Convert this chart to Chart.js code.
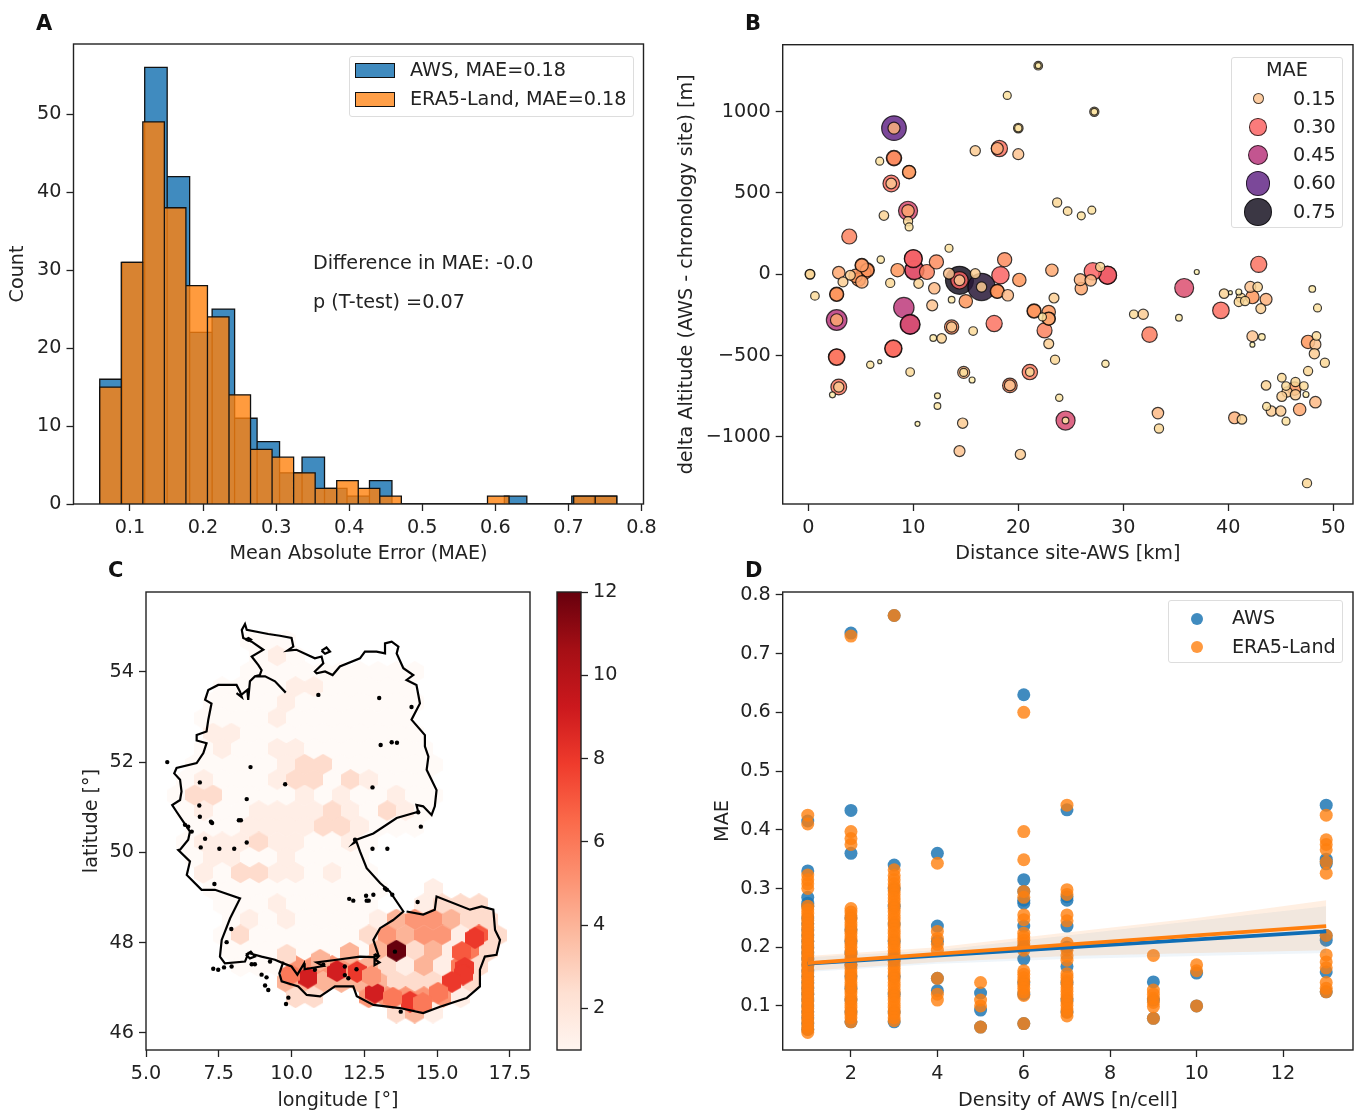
<!DOCTYPE html>
<html>
<head>
<meta charset="utf-8">
<title>MAE panels</title>
<script src="https://cdn.jsdelivr.net/npm/chart.js@4"></script>
<style>
    html, body { margin: 0; padding: 0; background: #fff; overflow: hidden; }
    body { width: 1358px; height: 1110px; position: relative; font-family: "DejaVu Sans", sans-serif; color: #222; filter: blur(.45px); }
    canvas { position: absolute; }
    .txt { position: absolute; white-space: nowrap; font-size: 19.2px; line-height: 22px; }
    .letter { position: absolute; font-weight: bold; font-size: 21px; line-height: 24px; color: #111; }
    .legend { position: absolute; background: rgba(255,255,255,.8); border: 1px solid #ddd; border-radius: 3px; box-sizing: border-box; }
    .swatch { position: absolute; box-sizing: border-box; border: 1.5px solid #111; }
    .dot { position: absolute; border-radius: 50%; box-sizing: border-box; }
</style>
</head>
<body>
<canvas id="histChart" width="654" height="536" style="left:6px;top:30px"></canvas>
<canvas id="siteChart" width="683" height="536" style="left:675px;top:30px"></canvas>
<canvas id="mapChart" width="470" height="538" style="left:80px;top:575px"></canvas>
<canvas id="barChart" width="100" height="490" style="left:540px;top:575px"></canvas>
<canvas id="densChart" width="647" height="538" style="left:711px;top:575px"></canvas>

<div class="letter" style="left:36px;top:11px">A</div>
<div class="letter" style="left:745px;top:11px">B</div>
<div class="letter" style="left:108px;top:558px">C</div>
<div class="letter" style="left:745px;top:558px">D</div>

<div class="txt" style="left:313px;top:252px">Difference in MAE: -0.0</div>
<div class="txt" style="left:313px;top:291px">p (T-test) =0.07</div>

<div class="legend" style="left:349px;top:56px;width:285px;height:61px"></div>
<div class="swatch" style="left:355px;top:63px;width:40px;height:15px;background:rgba(31,119,180,.85)"></div>
<div class="swatch" style="left:355px;top:92px;width:40px;height:15px;background:rgba(255,142,40,.85)"></div>
<div class="txt" style="left:410px;top:59px">AWS, MAE=0.18</div>
<div class="txt" style="left:410px;top:88px">ERA5-Land, MAE=0.18</div>

<div class="legend" style="left:1231px;top:57px;width:112px;height:171px"></div>
<div class="txt" style="left:1266px;top:59px">MAE</div>
<div id="maeLegend"></div>

<div class="legend" style="left:1168px;top:600px;width:175px;height:63px"></div>
<div class="dot" style="left:1191px;top:613px;width:12px;height:12px;background:rgba(31,119,180,.85)"></div>
<div class="dot" style="left:1191px;top:641px;width:12px;height:12px;background:rgba(255,127,14,.8)"></div>
<div class="txt" style="left:1232px;top:607px">AWS</div>
<div class="txt" style="left:1232px;top:636px">ERA5-Land</div>

<script>
    // ---- panel A: histogram
    const histTicksX = [0.1, 0.2, 0.3, 0.4, 0.5, 0.6, 0.7, 0.8];
    const histTicksY = [0, 10, 20, 30, 40, 50];
    const histStart = 0.0586;
    const awsBinWidth = 0.03076;
    const eraBinWidth = 0.02948;
    const awsCounts = [16, 31, 56, 42, 22, 25, 11, 8, 4, 6, 2, 1, 3, 0, 0, 0, 0, 0, 1, 0, 0, 1, 1];
    const eraCounts = [15, 31, 49, 38, 28, 24, 14, 7, 6, 4, 2, 3, 2, 1, 0, 0, 0, 0, 1, 0, 0, 0, 1, 1];

    // ---- panel B: sites
    const siteTicksX = [0, 10, 20, 30, 40, 50];
    const siteTicksY = [-1000, -500, 0, 500, 1000];
    const maeLegendValues = [0.15, 0.30, 0.45, 0.60, 0.75];
    const siteDist = [21.9, 21.9, 18.95, 20, 20, 15.9, 18.2, 18.0, 20, 8.16,
        8.16, 8.16, 8.16, 6.8, 9.6, 9.6, 7.9, 7.9, 23.7, 24.7,
        7.2, 9.5, 9.5, 9.5, 9.6, 3.9, 13.4, 6.9, 10, 10,
        18.7, 12.2, 5.1, 5.1, 5.6, 5.6, 10.1, 10.1, 11.3, 8.5,
        2.9, 0.16, 0.16, 4, 13.4, 14.4, 14.4, 14.4, 15.9, 18.3,
        20.1, 23.2, 3.3, 4.8, 5.1, 7.8, 10.5, 12, 16.5, 16.5,
        18, 18, 19, 0.63, 2.7, 2.7, 13.65, 15, 11.8, 23.4,
        9.1, 9.7, 9.7, 2.7, 2.7, 21.5, 21.5, 22.9, 22.9, 22.9,
        22.3, 22.5, 17.7, 13.65, 13.65, 15.7, 11.9, 12.7, 22.9, 8.1,
        8.1, 2.7, 2.7, 23.5, 5.9, 6.8, 9.7, 14.8, 14.8, 15.6,
        21.1, 21.1, 19.2, 19.2, 2.9, 2.9, 2.3, 23.9, 12.3, 12.3,
        24.5, 24.5, 10.4, 14.7, 14.4, 20.2, 27.24, 27.24, 26, 27,
        27.8, 27.1, 28.5, 28.5, 25.9, 26, 26.9, 37, 42.9, 35.8,
        31, 31.9, 35.3, 32.5, 28.3, 39.3, 39.6, 40.2, 41, 41.2,
        41, 41.6, 42.1, 42.3, 42.8, 43.6, 43.1, 48, 48.5, 42.3,
        43.2, 42.3, 47.6, 48.4, 48.3, 48.2, 49.2, 47.6, 45.1, 43.6,
        45.5, 46.4, 46.3, 47.2, 45.1, 45.6, 46.4, 47.4, 48.3, 43.65,
        44.1, 45, 46.8, 45.5, 40.6, 41.3, 33.3, 33.4, 47.5, 4.5, 5.3];
    const siteAlt = [1282, 1282, 1099, 898, 898, 759, 773, 773, 738, 898,
        898, 714, 714, 695, 628, 628, 558, 558, 441, 388,
        361, 390, 390, 326, 291, 232, 160, 90, 96, 96,
        90, 76, 55, 55, 25, 25, 25, 25, 14, 25,
        10, 0, 0, -6, 4, -37, -37, -37, 4, -6,
        -35, 25, -47, -33, -47, -53, -57, -86, -78, -78,
        -105, -105, -129, -133, -123, -123, -156, -166, -191, -146,
        -205, -308, -308, -281, -281, -226, -226, -232, -273, -273,
        -262, -345, -303, -324, -324, -349, -392, -394, -427, -457,
        -457, -509, -509, -525, -556, -537, -601, -603, -603, -650,
        -601, -601, -683, -683, -693, -693, -741, -759, -747, -810,
        -899, -899, -919, -915, -1087, -1107, 999, 999, 359, 394,
        45, 18, -6, -6, -33, -88, -37, 14, 61, -84,
        -246, -246, -267, -371, -550, -222, -119, -113, -109, -144,
        -170, -164, -78, -140, -78, -154, -211, -90, -207, -381,
        -385, -433, -416, -379, -431, -488, -544, -595, -636, -683,
        -687, -662, -703, -687, -751, -724, -741, -739, -786, -812,
        -841, -841, -831, -903, -882, -892, -853, -948, -1284, -10, 10];
    const siteMae = [0.09, 0.05, 0.08, 0.11, 0.07, 0.13, 0.27, 0.17, 0.15, 0.6,
        0.17, 0.25, 0.22, 0.08, 0.2, 0.19, 0.28, 0.14, 0.1, 0.09,
        0.11, 0.38, 0.18, 0.1, 0.08, 0.24, 0.08, 0.07, 0.33, 0.31,
        0.22, 0.22, 0.21, 0.19, 0.23, 0.2, 0.4, 0.35, 0.24, 0.2,
        0.18, 0.12, 0.1, 0.12, 0.15, 0.75, 0.3, 0.14, 0.12, 0.3,
        0.2, 0.18, 0.12, 0.2, 0.18, 0.1, 0.11, 0.16, 0.72, 0.13,
        0.22, 0.2, 0.16, 0.09, 0.22, 0.2, 0.06, 0.2, 0.15, 0.12,
        0.44, 0.42, 0.38, 0.45, 0.18, 0.22, 0.2, 0.2, 0.2, 0.18,
        0.08, 0.24, 0.27, 0.22, 0.13, 0.09, 0.06, 0.11, 0.12, 0.3,
        0.28, 0.28, 0.26, 0.1, 0.07, 0.03, 0.09, 0.17, 0.08, 0.05,
        0.25, 0.09, 0.23, 0.15, 0.26, 0.13, 0.05, 0.07, 0.05, 0.06,
        0.38, 0.06, 0.04, 0.13, 0.15, 0.13, 0.1, 0.06, 0.08, 0.08,
        0.1, 0.3, 0.34, 0.32, 0.17, 0.18, 0.16, 0.04, 0.27, 0.37,
        0.09, 0.13, 0.06, 0.25, 0.07, 0.28, 0.11, 0.03, 0.05, 0.1,
        0.1, 0.1, 0.15, 0.2, 0.11, 0.17, 0.12, 0.06, 0.08, 0.15,
        0.06, 0.04, 0.2, 0.09, 0.15, 0.13, 0.1, 0.1, 0.09, 0.11,
        0.09, 0.1, 0.2, 0.09, 0.12, 0.13, 0.13, 0.05, 0.16, 0.08,
        0.13, 0.13, 0.18, 0.08, 0.17, 0.11, 0.16, 0.1, 0.1, 0.2, 0.22];

    // ---- panel C: map
    const mapTicksX = [5, 7.5, 10, 12.5, 15, 17.5];
    const mapTicksY = [46, 48, 50, 52, 54];
    const colorTicks = [2, 4, 6, 8, 10, 12];
    const hexStep = 0.63;
    const hexRowLat = [54.69, 54.35, 54.00, 53.66, 53.32, 52.97, 52.63, 52.29, 51.94, 51.60, 51.26, 50.91,
        50.57, 50.22, 49.88, 49.54, 49.19, 48.85, 48.51, 48.16, 47.82, 47.48, 47.13, 46.79, 46.45];
    const hexRowLon = [8.56, 8.875, 8.56, 7.615, 7.3, 6.985, 7.3, 6.985, 6.67, 6.355, 6.04, 6.355,
        6.67, 6.355, 6.67, 6.985, 7.3, 7.615, 7.93, 7.615, 7.93, 8.245, 9.82, 10.135, 13.6];
    const hexRowCounts = [
        [1, 1, 1],
        [1, 2, 1],
        [1, 1, 1, 1, 1, 1, 1, 1, 1, 1],
        [1, 1, 1, 1, 2, 2, 1, 1, 1, 1, 1],
        [1, 1, 1, 1, 2, 1, 1, 1, 1, 1, 1, 1],
        [1, 1, 1, 1, 2, 1, 1, 1, 1, 1, 1, 1],
        [2, 2, 1, 1, 1, 1, 1, 1, 1, 1, 1, 1],
        [1, 2, 1, 1, 2, 2, 1, 1, 1, 1, 1, 1, 1],
        [1, 1, 1, 1, 1, 2, 3, 3, 1, 1, 1, 1, 1, 1],
        [1, 2, 1, 1, 1, 2, 3, 3, 1, 3, 2, 1, 1, 1],
        [1, 3, 3, 1, 1, 1, 1, 2, 1, 2, 1, 1, 2, 1, 1],
        [1, 2, 1, 1, 2, 2, 2, 2, 3, 2, 1, 3, 2, 1],
        [1, 1, 1, 2, 2, 2, 2, 3, 3, 2, 1, 1, 1],
        [1, 2, 2, 2, 3, 2, 2, 1, 1, 2, 1],
        [1, 2, 2, 1, 1, 2, 1, 1, 1, 1],
        [2, 1, 3, 3, 2, 2, 1, 2, 1, 1],
        [1, 1, 1, 1, 1, 1, 1, 1, 1, 1, 0, 0, 2],
        [1, 1, 1, 2, 1, 1, 1, 1, 1, 0, 0, 2, 3, 3, 3],
        [1, 2, 1, 2, 1, 1, 1, 1, 2, 4, 5, 5, 4, 3, 3],
        [1, 3, 1, 1, 1, 1, 1, 1, 3, 5, 4, 5, 5, 2, 7, 3],
        [1, 1, 1, 1, 1, 1, 1, 1, 4, 4, 3, 4, 2, 6, 3],
        [1, 1, 1, 5, 5, 5, 5, 4, 3, 2, 4, 2, 6, 3],
        [4, 4, 4, 4, 4, 4, 3, 3, 3, 4, 3],
        [3, 3, 0, 0, 5, 5, 5, 5, 5, 2],
        [3, 4, 2]
    ];
    const peakLon = [13.6, 16.3, 15.85, 15.95, 15.89, 15.51, 15.03, 12.86, 14.07, 13.48, 14.51, 10.56, 9.95, 11.56, 12.25, 12.76, 10.98, 12.0, 9.84];
    const peakLat = [47.82, 48.1, 47.79, 47.44, 47.29, 47.13, 46.89, 46.89, 46.69, 46.78, 46.66, 47.22, 47.29, 47.37, 47.35, 47.26, 47.62, 47.77, 47.73];
    const peakCount = [12, 8, 7, 8, 8, 8, 6, 9, 8, 6, 6, 9, 6, 9, 8, 5, 4, 4, 3];
    const borderLon = [9.80, 9.43, 9.09, 8.74, 8.57, 8.51, 8.48, 8.23, 8.11, 8.29, 8.23, 8.11, 7.48, 7.14, 7.03, 7.25, 7.14, 7.08, 6.74, 6.74, 7.08, 6.97, 6.74, 6.05, 5.97, 6.17, 6.22, 6.17, 5.9, 6.05, 6.28, 6.4, 6.51, 6.45, 6.17,
        6.11, 6.51, 6.4, 6.91, 7.37, 8.23, 7.89, 7.6, 7.54, 7.71, 8.4, 8.52, 8.74, 8.97, 9.43, 9.72, 10.0, 10.2, 10.43, 10.45, 11.09, 10.86, 11.55, 12.35, 12.81, 12.98, 12.81, 13.04, 13.49, 13.84, 13.38, 13.04, 12.58, 12.35, 12.23,
        12.12, 12.23, 12.81, 13.61, 14.35, 14.29, 14.52, 14.81, 14.92, 14.98, 14.64, 14.7, 14.58, 14.58, 14.12, 14.41, 14.29, 13.95, 14.18, 13.84, 13.61, 13.67, 13.44, 13.21, 13.21, 12.92, 12.52, 12.35, 11.66, 11.41, 11.15, 10.86, 10.80, 11.09, 11.03, 10.80, 10.17, 9.85, 10.06, 10.0, 9.6, 9.2, 8.46, 8.4, 8.29, 8.34, 8.63, 9.03, 8.63, 8.86, 8.97, 8.91, 8.74,
        null, 8.42, 8.52, 8.6, 8.52, 8.42,
        null, 11.03, 11.2, 11.32, 11.15, 11.03,
        null, 9.72, 9.58, 9.66, 10.23, 10.52, 10.98, 11.49, 12.12, 12.24, 12.81, 13.72, 14.52, 15.1, 16.01, 16.47, 16.47, 16.64, 17.04, 17.16, 16.99, 16.93, 16.53, 16.13, 14.98, 14.92, 14.52, 13.95,
        null, 8.43, 8.6, 8.74, 8.57, 8.43,
        null, 12.85, 13.0, 12.88, 13.02, 12.85, 12.85];
    const borderLat = [53.54, 53.79, 53.90, 53.90, 53.79, 53.38, 53.6, 53.47, 53.53, 53.44, 53.56, 53.71, 53.71, 53.6, 53.38, 53.3, 52.94, 52.68, 52.6, 52.48, 52.42, 52.2, 51.98, 51.87, 51.75, 51.61, 51.35, 51.16, 51.05, 50.9, 50.68, 50.57, 50.46, 50.28, 50.06,
        50.05, 49.8, 49.5, 49.17, 49.17, 48.98, 48.54, 48.06, 47.69, 47.54, 47.58, 47.77, 47.73, 47.69, 47.62, 47.54, 47.47, 47.29, 47.54, 47.41, 47.48, 47.56, 47.62, 47.69, 47.68, 47.73, 48.06, 48.32, 48.5, 48.69, 49.13, 49.32, 49.65, 50.02, 50.24,
        50.2, 50.28, 50.42, 50.76, 50.9, 51.05, 51.02, 50.83, 51.02, 51.38, 51.83, 52.12, 52.35, 52.6, 52.94, 53.3, 53.71, 53.82, 53.93, 54.08, 54.41, 54.56, 54.67, 54.63, 54.41, 54.45, 54.45, 54.3, 54.12, 53.93, 54.01, 53.97, 54.01, 54.19, 54.34, 54.3, 54.49, 54.47, 54.56, 54.75, 54.8, 54.84, 54.93, 55.06, 54.93, 54.75, 54.67, 54.49, 54.34, 54.15, 54.04, 53.93, 53.9,
        null, 54.72, 54.75, 54.72, 54.69, 54.72,
        null, 54.47, 54.54, 54.45, 54.4, 54.47,
        null, 47.58, 47.32, 47.14, 47.03, 46.84, 46.81, 47.03, 47.03, 46.81, 46.62, 46.55, 46.44, 46.58, 46.77, 47.03, 47.4, 47.69, 47.73, 48.06, 48.28, 48.73, 48.8, 48.73, 49.02, 48.73, 48.62, 48.69,
        null, 47.73, 47.8, 47.69, 47.65, 47.73,
        null, 47.75, 47.7, 47.62, 47.56, 47.5, 47.75];
    const stationLon = [10.92, 13.01, 14.12, 13.06, 13.44, 13.62, 5.73, 8.59, 6.85, 9.78, 12.78, 8.46, 6.83, 6.85, 7.23, 7.27, 8.19, 8.26, 6.34, 6.45, 6.57, 7.03, 8.46, 14.35, 14.44, 12.18, 6.88, 7.52, 8.03, 12.78, 13.29,
        7.35, 11.98, 12.12, 12.56, 12.81, 12.58, 12.65, 13.27, 13.21, 13.46, 14.33, 7.93, 7.77, 7.31, 7.48, 7.68, 7.94, 8.63, 8.74, 9.26, 8.97, 9.14, 9.09, 9.2, 9.89, 9.81, 10.8, 11.09, 11.83, 12.23, 11.83, 11.95, 13.55, 13.75];
    const stationLat = [53.49, 53.42, 53.22, 52.38, 52.44, 52.43, 52.0, 51.89, 51.55, 51.51, 51.44, 51.18, 51.04, 50.79, 50.68, 50.65, 50.71, 50.71, 50.61, 50.57, 50.46, 50.3, 50.22, 50.89, 50.57, 50.28, 50.11, 50.08, 50.08, 50.08, 50.08,
        49.3, 48.97, 48.93, 49.04, 49.06, 48.93, 48.93, 49.17, 49.2, 49.06, 48.9, 48.3, 48.01, 47.42, 47.4, 47.45, 47.47, 47.52, 47.52, 47.58, 47.29, 47.23, 47.05, 46.95, 46.78, 46.64, 47.4, 47.51, 47.47, 47.41, 47.28, 47.21, 47.8, 46.47];

    // ---- panel D: density
    const densTicksX = [2, 4, 6, 8, 10, 12];
    const densTicksY = [0.1, 0.2, 0.3, 0.4, 0.5, 0.6, 0.7, 0.8];
    const densityLevels = [1, 2, 3, 4, 5, 6, 7, 9, 10, 13];
    const awsByDensity = [
        [0.415, 0.33, 0.285, 0.275, 0.27, 0.25, 0.24, 0.23, 0.22, 0.21, 0.2, 0.19, 0.18, 0.17, 0.16, 0.15, 0.14, 0.13, 0.12, 0.11, 0.1, 0.09, 0.08, 0.07, 0.06],
        [0.735, 0.433, 0.36, 0.25, 0.23, 0.21, 0.19, 0.17, 0.15, 0.13, 0.11, 0.09, 0.073],
        [0.765, 0.34, 0.3, 0.27, 0.24, 0.21, 0.18, 0.15, 0.12, 0.09, 0.073],
        [0.36, 0.236, 0.21, 0.147, 0.126],
        [0.122, 0.093, 0.064],
        [0.63, 0.315, 0.295, 0.28, 0.275, 0.236, 0.2, 0.18, 0.14, 0.12, 0.07],
        [0.434, 0.286, 0.28, 0.236, 0.2, 0.167, 0.14, 0.11, 0.09],
        [0.141, 0.11, 0.079],
        [0.156, 0.1],
        [0.442, 0.35, 0.346, 0.342, 0.22, 0.212, 0.158, 0.124]
    ];
    const eraByDensity = [
        [0.425, 0.41, 0.323, 0.315, 0.308, 0.3, 0.27, 0.264, 0.258, 0.252, 0.246, 0.24, 0.234, 0.228, 0.222, 0.216, 0.21, 0.204, 0.198, 0.192, 0.186, 0.18, 0.174, 0.168, 0.162, 0.156, 0.15, 0.144, 0.138, 0.132, 0.126, 0.12, 0.114, 0.108, 0.102, 0.096, 0.09, 0.084, 0.078, 0.072, 0.066, 0.06, 0.055],
        [0.73, 0.397, 0.385, 0.375, 0.266, 0.26, 0.254, 0.248, 0.242, 0.236, 0.23, 0.224, 0.218, 0.212, 0.206, 0.2, 0.194, 0.188, 0.182, 0.176, 0.17, 0.164, 0.158, 0.152, 0.146, 0.14, 0.134, 0.128, 0.122, 0.116, 0.11, 0.104, 0.098, 0.092, 0.086, 0.08, 0.073],
        [0.765, 0.332, 0.322, 0.315, 0.308, 0.302, 0.296, 0.29, 0.284, 0.278, 0.272, 0.266, 0.26, 0.254, 0.248, 0.242, 0.236, 0.23, 0.224, 0.218, 0.212, 0.206, 0.2, 0.194, 0.188, 0.182, 0.176, 0.17, 0.164, 0.158, 0.152, 0.146, 0.14, 0.134, 0.128, 0.122, 0.116, 0.11, 0.104, 0.098, 0.092, 0.087, 0.08, 0.075],
        [0.343, 0.227, 0.215, 0.205, 0.195, 0.147, 0.12, 0.11],
        [0.14, 0.11, 0.1, 0.064],
        [0.6, 0.397, 0.349, 0.295, 0.285, 0.255, 0.247, 0.224, 0.218, 0.212, 0.206, 0.2, 0.195, 0.16, 0.154, 0.148, 0.142, 0.136, 0.13, 0.124, 0.118, 0.07],
        [0.442, 0.298, 0.29, 0.255, 0.245, 0.207, 0.195, 0.185, 0.178, 0.155, 0.149, 0.143, 0.137, 0.131, 0.125, 0.119, 0.113, 0.107, 0.101, 0.095, 0.089, 0.083],
        [0.186, 0.127, 0.12, 0.113, 0.106, 0.099, 0.079],
        [0.17, 0.16, 0.1],
        [0.425, 0.383, 0.375, 0.366, 0.345, 0.326, 0.22, 0.187, 0.175, 0.165, 0.14, 0.13, 0.124]
    ];
    const fitX = [1, 13];
    const awsFit = [0.172, 0.227];
    const eraFit = [0.173, 0.236];
    const bandX = [1, 4, 7, 10, 13];
    const awsBandHigh = [0.183, 0.195, 0.22, 0.245, 0.27];
    const awsBandLow = [0.158, 0.172, 0.18, 0.185, 0.19];
    const eraBandHigh = [0.185, 0.2, 0.225, 0.25, 0.28];
    const eraBandLow = [0.16, 0.175, 0.185, 0.19, 0.195];

    const FONT = "'DejaVu Sans'";
    const FONT_SIZE = 19.2;
    const INK = "#222";

    // box round the plot, matplotlib style
    const frame = {
        id: "frame",
        afterDatasetsDraw(chart) {
            const a = chart.chartArea, c = chart.ctx;
            c.save();
            c.strokeStyle = INK;
            c.lineWidth = 1.4;
            c.strokeRect(a.left, a.top, a.right - a.left, a.bottom - a.top);
            c.restore();
        }
    };

    function axis(min, max, ticks, title, digits, size, position) {
        return {
            type: "linear",
            bounds: "data",
            position: position,
            min: min,
            max: max,
            afterBuildTicks: function (a) { a.ticks = ticks.map(v => ({ value: v })); },
            afterFit: function (a) {
                if (a.isHorizontal()) a.height = size; else a.width = size;
                // label overhang must not squeeze the plot, the canvases have room for it
                a.paddingLeft = a.paddingRight = a.paddingTop = a.paddingBottom = 0;
            },
            grid: { drawOnChartArea: false, drawTicks: true, tickLength: 7, tickColor: INK, tickWidth: 1.3 },
            border: { display: false },
            title: { display: !!title, text: title, color: INK, padding: 0, font: { family: FONT, size: FONT_SIZE } },
            ticks: {
                autoSkip: false, maxRotation: 0, minRotation: 0, padding: 5, color: INK,
                font: { family: FONT, size: FONT_SIZE },
                callback: function (v) {
                    const s = Math.abs(v).toFixed(digits);
                    return v < 0 ? "\u2212" + s : s;
                }
            }
        };
    }

    function baseOptions(x, y, padding) {
        return {
            responsive: false,
            animation: false,
            events: [],
            layout: { padding: padding, autoPadding: false },
            plugins: { legend: { display: false }, tooltip: { enabled: false } },
            scales: { x: x, y: y }
        };
    }

    function zipPoints(xs, ys) {
        return xs.map((x, i) => ({ x: x, y: ys[i] }));
    }

    function stepOutline(counts, width) {
        var pts = [];
        counts.forEach(function (n, i) {
            var a = histStart + i * width, b = a + width;
            pts.push({ x: a, y: 0 }, { x: a, y: n }, { x: b, y: n }, { x: b, y: 0 });
        });
        return pts;
    }

    function interp(stops, v) {
        if (v <= stops[0][0]) return stops[0].slice(1);
        for (var i = 1; i < stops.length; i++) {
            if (v <= stops[i][0]) {
                var t = (v - stops[i - 1][0]) / (stops[i][0] - stops[i - 1][0]);
                return stops[i].slice(1).map((s, k) => stops[i - 1][k + 1] + t * (s - stops[i - 1][k + 1]));
            }
        }
        return stops[stops.length - 1].slice(1);
    }

    // ---- A
    new Chart(document.getElementById("histChart"), {
        type: "scatter",
        data: {
            datasets: [{
                data: stepOutline(eraCounts, eraBinWidth), showLine: true, fill: "origin", tension: 0,
                pointRadius: 0, borderColor: "#111", borderWidth: 1.3, backgroundColor: "rgba(255,130,14,.8)", order: 1
            }, {
                data: stepOutline(awsCounts, awsBinWidth), showLine: true, fill: "origin", tension: 0,
                pointRadius: 0, borderColor: "#111", borderWidth: 1.3, backgroundColor: "rgba(31,119,180,.85)", order: 2
            }]
        },
        options: baseOptions(
            axis(0.0227, 0.8027, histTicksX, "Mean Absolute Error (MAE)", 1, 62),
            axis(0, 59, histTicksY, "Count", 0, 67.5),
            { top: 14, right: 16.5 }),
        plugins: [frame]
    });

    // ---- B
    const maeStops = [[0.03, 255, 245, 180], [0.1, 250, 215, 150], [0.15, 253, 195, 145], [0.2, 254, 150, 92],
        [0.3, 250, 100, 100], [0.45, 185, 55, 125], [0.6, 100, 40, 135], [0.75, 25, 20, 35]];
    const radiusStops = [[0.03, 2], [0.05, 3], [0.08, 4], [0.1, 4.6], [0.15, 5.5], [0.2, 6.7], [0.3, 8.7], [0.45, 10.3], [0.6, 12.3], [0.75, 14]];
    function maeColor(m) {
        return "rgba(" + interp(maeStops, m).map(Math.round).join(",") + ",.85)";
    }
    function maeRadius(m) {
        return interp(radiusStops, m)[0];
    }
    const sitePoints = siteDist.map((d, i) => ({ x: d, y: siteAlt[i], m: siteMae[i] }))
        .sort((a, b) => b.m - a.m);
    new Chart(document.getElementById("siteChart"), {
        type: "scatter",
        data: {
            datasets: [{
                data: sitePoints,
                pointRadius: sitePoints.map(p => maeRadius(p.m)),
                pointBackgroundColor: sitePoints.map(p => maeColor(p.m)),
                pointBorderColor: "rgba(0,0,0,.75)",
                pointBorderWidth: 1.2
            }]
        },
        options: baseOptions(
            axis(-2.44, 51.88, siteTicksX, "Distance site-AWS [km]", 0, 62),
            axis(-1412, 1411, siteTicksY, "delta Altitude (AWS - chronology site) [m]", 0, 107.7),
            { top: 14.7, right: 5 }),
        plugins: [frame]
    });
    // legend of panel B takes size and colour from the same functions
    var legendHtml = "";
    maeLegendValues.forEach(function (m, i) {
        var r = maeRadius(m), y = 98.7 + i * 28.2;
        legendHtml += '<div class="dot" style="left:' + (1258 - r) + 'px;top:' + (y - r) + 'px;width:' + (2 * r) + 'px;height:' + (2 * r) +
            'px;background:' + maeColor(m) + ';border:1px solid rgba(0,0,0,.7)"></div>' +
            '<div class="txt" style="left:1293px;top:' + (y - 11) + 'px">' + m.toFixed(2) + '</div>';
    });
    document.getElementById("maeLegend").innerHTML = legendHtml;

    // ---- C
    const redsStops = [[0, 255, 245, 240], [0.125, 254, 224, 210], [0.25, 252, 187, 161], [0.375, 252, 146, 114],
        [0.5, 251, 106, 74], [0.625, 239, 59, 44], [0.75, 203, 24, 29], [0.875, 165, 15, 21], [1, 103, 0, 13]];
    const lowShades = { 1: "#fffaf7", 2: "#ffeee6", 3: "#fedccd" };
    function redsColor(n) {
        if (lowShades[n]) return lowShades[n];
        return "rgb(" + interp(redsStops, (n - 1) / 11).map(Math.round).join(",") + ")";
    }
    const hexSprites = {};
    function hexSprite(n) {
        if (hexSprites[n]) return hexSprites[n];
        var cv = document.createElement("canvas"), w = 19, h = 22;
        cv.width = w; cv.height = h;
        var c = cv.getContext("2d");
        c.fillStyle = redsColor(n);
        c.beginPath();
        c.moveTo(w / 2, 0); c.lineTo(w, h * .25); c.lineTo(w, h * .75);
        c.lineTo(w / 2, h); c.lineTo(0, h * .75); c.lineTo(0, h * .25);
        c.closePath();
        c.fill();
        hexSprites[n] = cv;
        return cv;
    }
    const hexCells = [];
    hexRowCounts.forEach(function (row, r) {
        row.forEach(function (n, c) {
            if (n > 0) hexCells.push({ x: hexRowLon[r] + c * hexStep, y: hexRowLat[r], n: n });
        });
    });
    const peakCells = peakLon.map((lon, i) => ({ x: lon, y: peakLat[i], n: peakCount[i] }));
    function hexStyle(ctx) {
        return ctx.raw ? hexSprite(ctx.raw.n) : "circle";
    }
    new Chart(document.getElementById("mapChart"), {
        type: "scatter",
        data: {
            datasets: [{
                data: zipPoints(borderLon, borderLat), showLine: true, spanGaps: false, tension: 0, pointRadius: 0,
                borderColor: "#000", borderWidth: 2.2, order: 0
            }, {
                data: zipPoints(stationLon, stationLat), pointRadius: 2.2, pointBackgroundColor: "#000",
                pointBorderWidth: 0, order: 1
            }, {
                data: peakCells, pointStyle: hexStyle, pointRadius: 9, order: 2
            }, {
                data: hexCells, pointStyle: hexStyle, pointRadius: 9, order: 3
            }]
        },
        options: baseOptions(
            axis(5, 18.19, mapTicksX, "longitude [\u00b0]", 1, 63),
            axis(45.62, 55.77, mapTicksY, "latitude [\u00b0]", 0, 66),
            { top: 17, right: 20 }),
        plugins: [frame]
    });

    // colour bar
    new Chart(document.getElementById("barChart"), {
        type: "bar",
        data: {
            labels: [""],
            datasets: [{
                data: [[1, 12]],
                categoryPercentage: 1,
                barPercentage: 1,
                backgroundColor: function (ctx) {
                    var area = ctx.chart.chartArea;
                    if (!area) return "#fff";
                    var g = ctx.chart.ctx.createLinearGradient(0, area.bottom, 0, area.top);
                    redsStops.forEach(s => g.addColorStop(s[0], "rgb(" + s.slice(1).join(",") + ")"));
                    return g;
                }
            }]
        },
        options: baseOptions(
            { type: "category", display: false },
            axis(1, 12, colorTicks, "", 0, 59, "right"),
            { top: 17, bottom: 15, left: 17 }),
        plugins: [frame]
    });

    // ---- D
    function columnPoints(groups) {
        var pts = [];
        groups.forEach(function (vals, i) {
            vals.forEach(v => pts.push({ x: densityLevels[i], y: v }));
        });
        return pts;
    }
    function bandPair(high, low, color, order) {
        return [{
            data: zipPoints(bandX, high), showLine: true, tension: 0, pointRadius: 0, borderWidth: 0,
            borderColor: "rgba(0,0,0,0)", backgroundColor: color, fill: "+1", order: order
        }, {
            data: zipPoints(bandX, low), showLine: true, tension: 0, pointRadius: 0, borderWidth: 0,
            borderColor: "rgba(0,0,0,0)", fill: false, order: order
        }];
    }
    new Chart(document.getElementById("densChart"), {
        type: "scatter",
        data: {
            datasets: [{
                data: zipPoints(fitX, eraFit), showLine: true, tension: 0, pointRadius: 0,
                borderColor: "#ff7f0e", borderWidth: 3.8, order: 0
            }, {
                data: zipPoints(fitX, awsFit), showLine: true, tension: 0, pointRadius: 0,
                borderColor: "#0f6db5", borderWidth: 3.8, order: 1
            }].concat(
                bandPair(eraBandHigh, eraBandLow, "rgba(255,127,14,.12)", 2),
                bandPair(awsBandHigh, awsBandLow, "rgba(31,119,180,.07)", 3),
                [{
                    data: columnPoints(eraByDensity), pointRadius: 6.5, pointBorderWidth: 0,
                    pointBackgroundColor: "rgba(255,127,14,.8)", order: 4
                }, {
                    data: columnPoints(awsByDensity), pointRadius: 6.5, pointBorderWidth: 0,
                    pointBackgroundColor: "rgba(31,119,180,.85)", order: 5
                }])
        },
        options: baseOptions(
            axis(0.42, 13.62, densTicksX, "Density of AWS [n/cell]", 0, 63),
            axis(0.025, 0.805, densTicksY, "MAE", 1, 71.7),
            { top: 17, right: 5 }),
        plugins: [frame]
    });
</script>
</body>
</html>
